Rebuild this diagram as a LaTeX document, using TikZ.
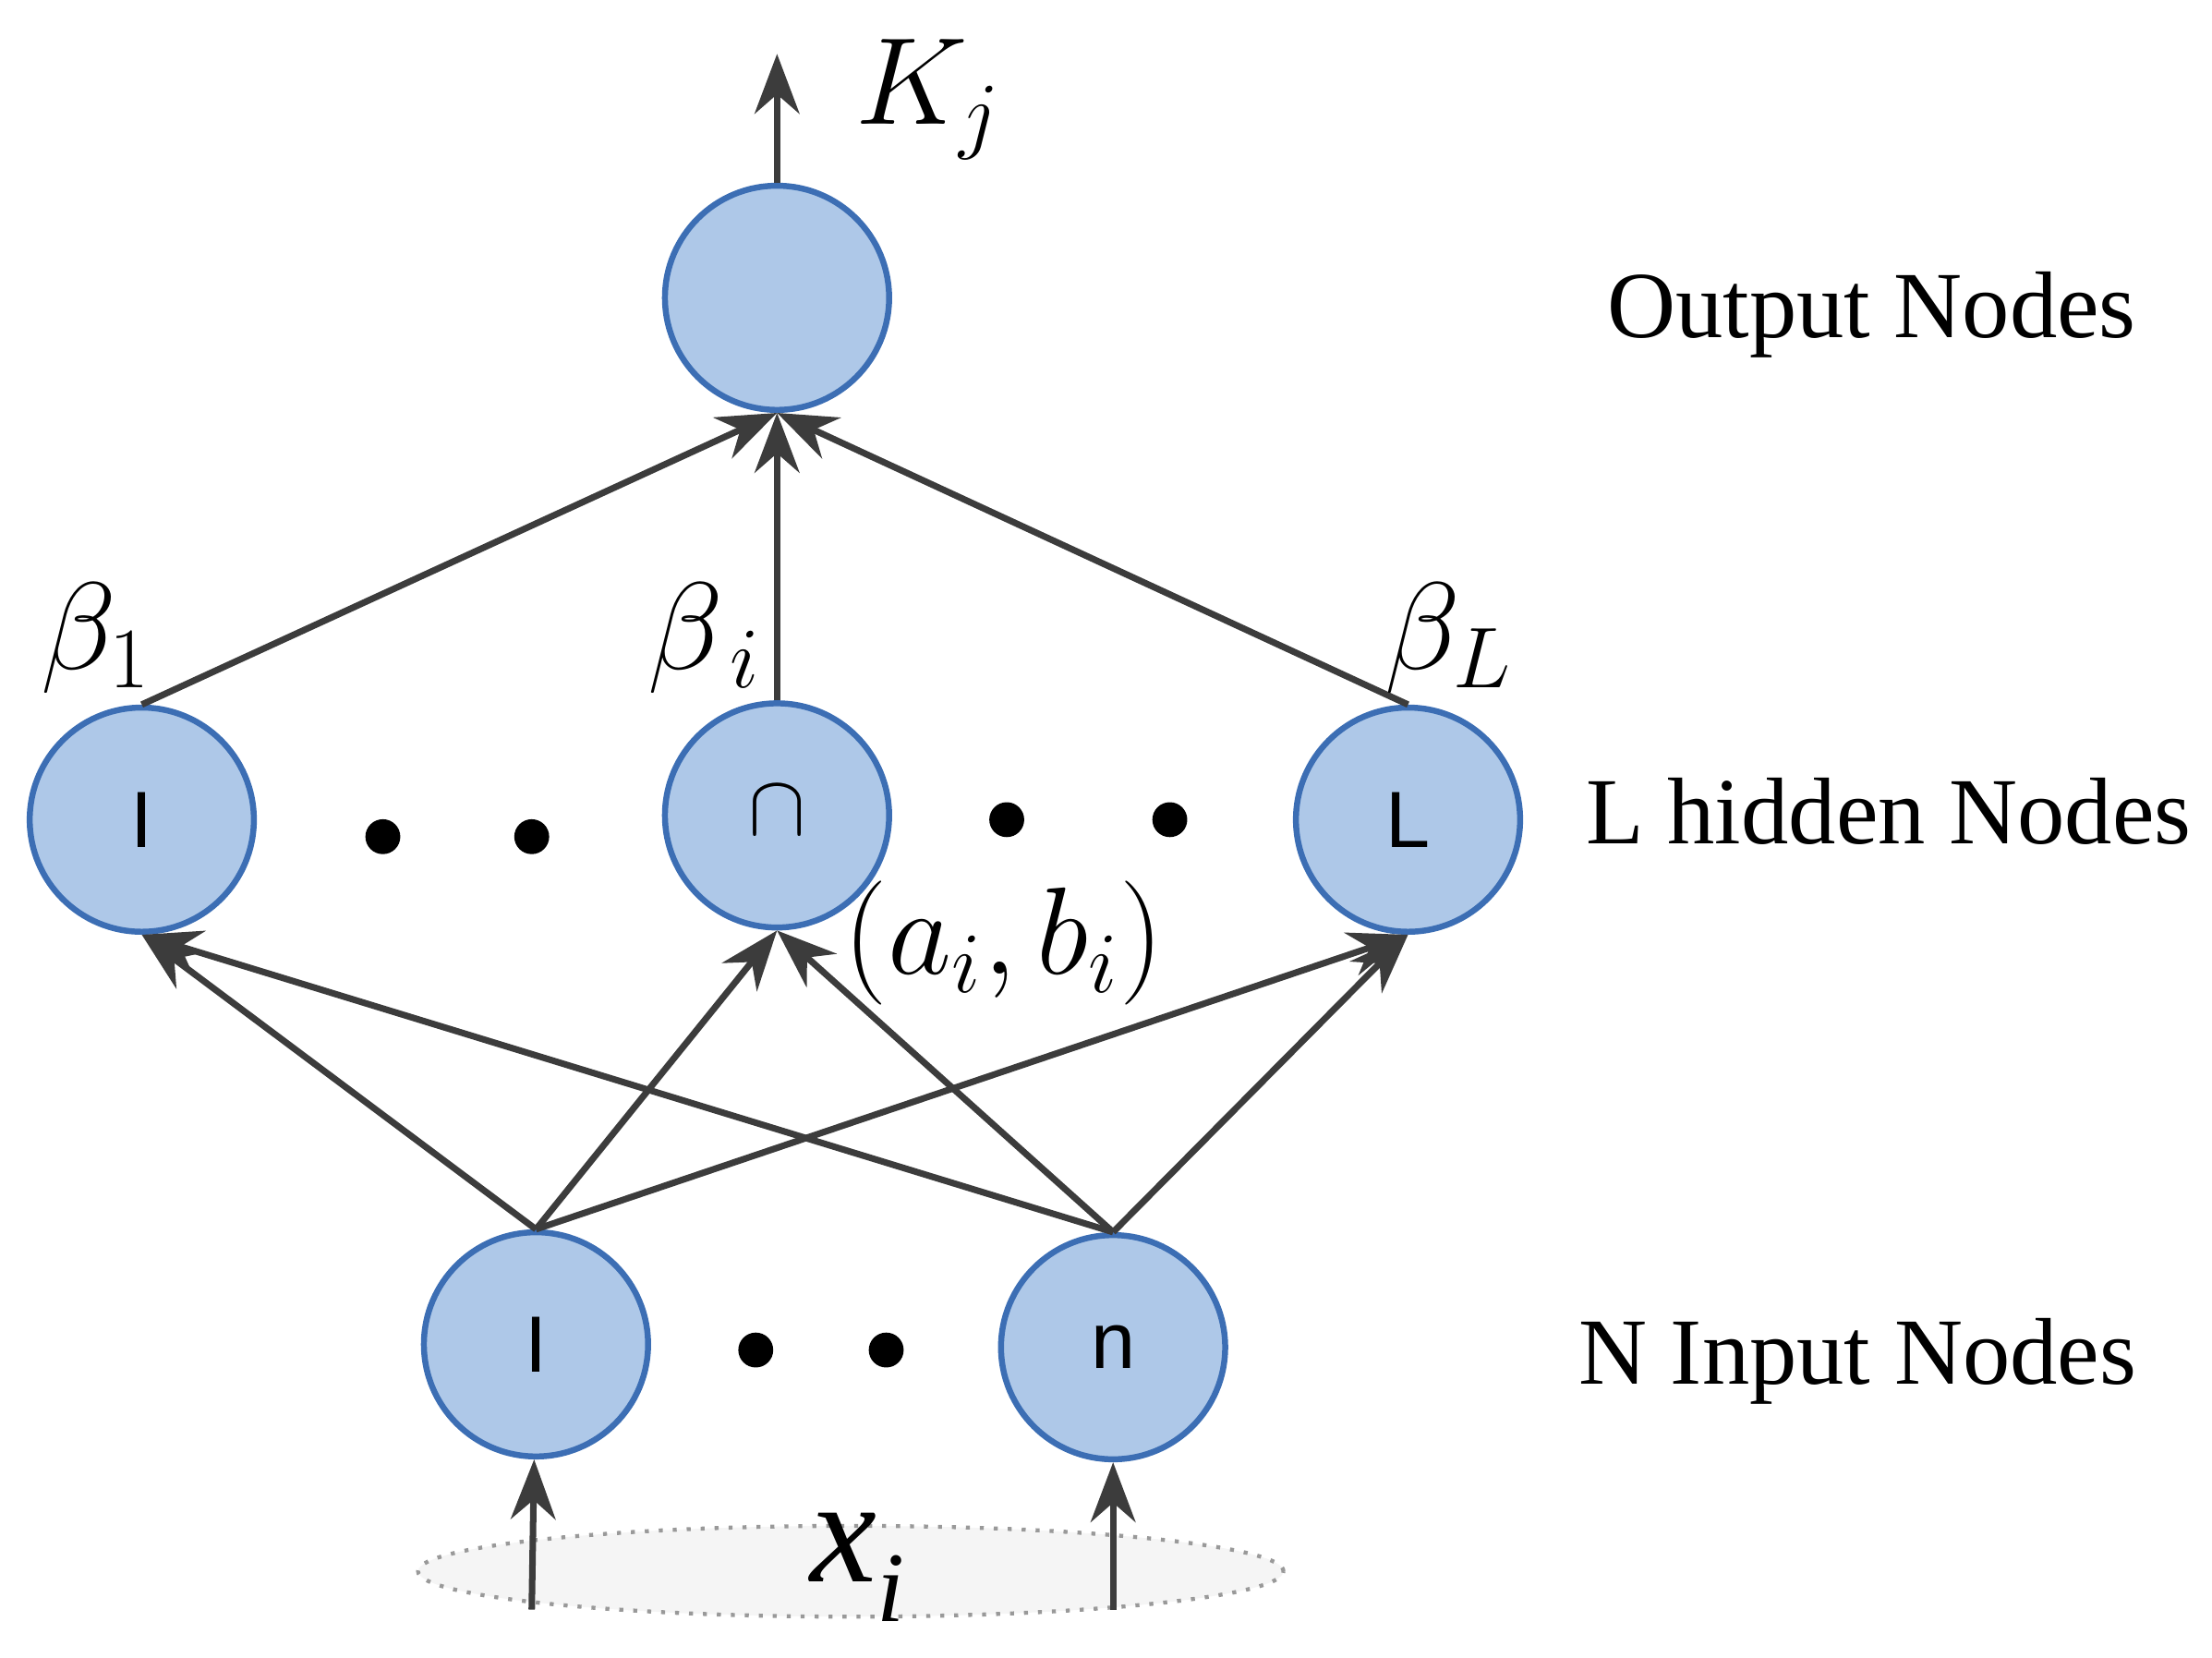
\documentclass[tikz,border=0pt]{standalone}
\usepackage{fontspec}
\setmainfont{Liberation Serif}
\newfontfamily\sansf{Liberation Sans}
\usetikzlibrary{arrows.meta,shapes.geometric}
\begin{document}
\begin{tikzpicture}[x=0.01cm,y=-0.01cm,
  nd/.style={circle,draw={rgb,255:red,60;green,110;blue,180},fill={rgb,255:red,174;green,200;blue,232},line width=1.2pt,minimum size=1.58cm,inner sep=0pt,font=\sansf\fontsize{16}{16}\selectfont},
  ar/.style={draw={rgb,255:red,60;green,60;blue,60},line width=1.3pt,-{Stealth[length=12pt,width=9pt]}},
  lab/.style={font=\fontsize{19}{19}\selectfont},
  mlab/.style={font=\fontsize{23}{23}\selectfont},
  dt/.style={circle,fill=black,inner sep=0pt,minimum size=7pt}]
\useasboundingbox (0,0) rectangle (1560,1169);
\node[nd] (o) at (548,210) {};
\node[nd] (h1) at (100,578) {I};
\node[nd] (hi) at (548,575) {\raisebox{2pt}{$\cap$}};
\node[nd] (hL) at (993,578) {L};
\node[nd] (i1) at (378,948) {I};
\node[nd] (in) at (785,950) {n};
\node[ellipse,draw=gray!80,dotted,thick,fill=gray!8,minimum width=6.1cm,minimum height=0.64cm] (x) at (600,1108) {};
\node[font=\itshape\fontsize{30}{30}\selectfont] (xl) at (605,1105) {x\raisebox{-8pt}{\fontsize{20}{20}\selectfont i}};
\coordinate (x1) at (375,1135);
\coordinate (xn) at (785,1135);
\draw[ar] (x1) -- (i1);
\draw[ar] (xn) -- (in);
\foreach \a in {i1,in}\foreach \b in {h1,hi,hL}\draw[ar] (\a.north) -- (\b.south);
\foreach \b in {h1,hi,hL}\draw[ar] (\b.north) -- (o.south);
\coordinate (ot) at (548,38);
\draw[ar] (o.north) -- (ot);
\node[mlab] (k) at (655,70) {$K_j$};
\node[mlab] (b1) at (68,450) {$\beta_1$};
\node[mlab] (bi) at (497,450) {$\beta_{\,i}$};
\node[mlab] (bL) at (1022,450) {$\beta_{L}$};
\node[mlab] (ab) at (708,665) {$\big(a_i,b_i\big)$};
\node[lab] (t1) at (1320,222) {Output Nodes};
\node[lab] (t2) at (1332,572) {L hidden Nodes};
\node[lab] (t3) at (1310,960) {N Input Nodes};
\node[dt] (d1) at (270,590) {}; \node[dt] (d2) at (375,590) {};
\node[dt] (d3) at (710,578) {}; \node[dt] (d4) at (825,578) {};
\node[dt] (d5) at (533,952) {}; \node[dt] (d6) at (625,952) {};
\end{tikzpicture}
\end{document}
